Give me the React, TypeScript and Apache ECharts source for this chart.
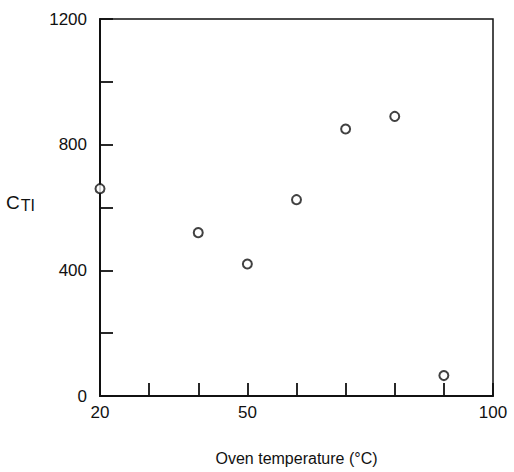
import React, { useEffect, useRef } from "react";
import * as echarts from "echarts";

const temperatures = [20, 40, 50, 60, 70, 80, 90];
const ctiValues = [660, 520, 420, 625, 850, 890, 65];
const xLabels = [20, 50, 100];
const yLabels = [0, 400, 800, 1200];

export default function App() {
  const ref = useRef<HTMLDivElement>(null);
  useEffect(() => {
    if (!ref.current) return;
    const chart = echarts.init(ref.current, null, { renderer: "svg" });
    const ink = "#111";
    const font = "'Liberation Sans', Arial, Helvetica, sans-serif";
    chart.setOption({
      animation: false,
      backgroundColor: "#fff",
      grid: {
        left: 100,
        top: 19,
        right: 21,
        bottom: 76,
        show: true,
        borderColor: ink,
        borderWidth: 1.5,
        backgroundColor: "transparent",
      },
      xAxis: {
        type: "value",
        min: 20,
        max: 100,
        interval: 10,
        name: "Oven temperature (°C)",
        nameLocation: "middle",
        nameGap: 54,
        nameTextStyle: { color: ink, fontSize: 16, fontFamily: font },
        axisLine: { show: true, lineStyle: { color: ink, width: 2 } },
        axisTick: { show: true, inside: true, length: 13, lineStyle: { color: ink, width: 1.8 } },
        splitLine: { show: false },
        axisLabel: {
          color: ink,
          fontSize: 17,
          fontFamily: font,
          margin: 8,
          showMinLabel: true,
          showMaxLabel: true,
          formatter: (v: number) => (xLabels.includes(v) ? String(v) : ""),
        },
      },
      yAxis: {
        type: "value",
        min: 0,
        max: 1200,
        interval: 200,
        axisLine: { show: true, lineStyle: { color: ink, width: 2 } },
        axisTick: { show: true, inside: true, length: 13, lineStyle: { color: ink, width: 1.8 } },
        splitLine: { show: false },
        axisLabel: {
          color: ink,
          fontSize: 17,
          fontFamily: font,
          margin: 13,
          formatter: (v: number) => (yLabels.includes(v) ? String(v) : ""),
        },
      },
      graphic: [
        {
          type: "text",
          left: 6,
          top: 193,
          style: {
            text: "{a|C}{b|TI}",
            rich: {
              a: { fontSize: 19, fontFamily: font, fill: ink },
              b: { fontSize: 16, fontFamily: font, fill: ink, padding: [5, 0, 0, 1] },
            },
          },
        },
      ],
      series: [
        {
          type: "scatter",
          clip: false,
          symbol: "circle",
          symbolSize: 9,
          itemStyle: { color: "#fff", borderColor: ink, borderWidth: 2 },
          data: temperatures.map((t, i) => [t, ctiValues[i]]),
        },
      ],
    });
    return () => chart.dispose();
  }, []);
  return (
    <div
      ref={ref}
      style={{ position: "fixed", left: 0, top: 0, width: 514, height: 472 }}
    />
  );
}
